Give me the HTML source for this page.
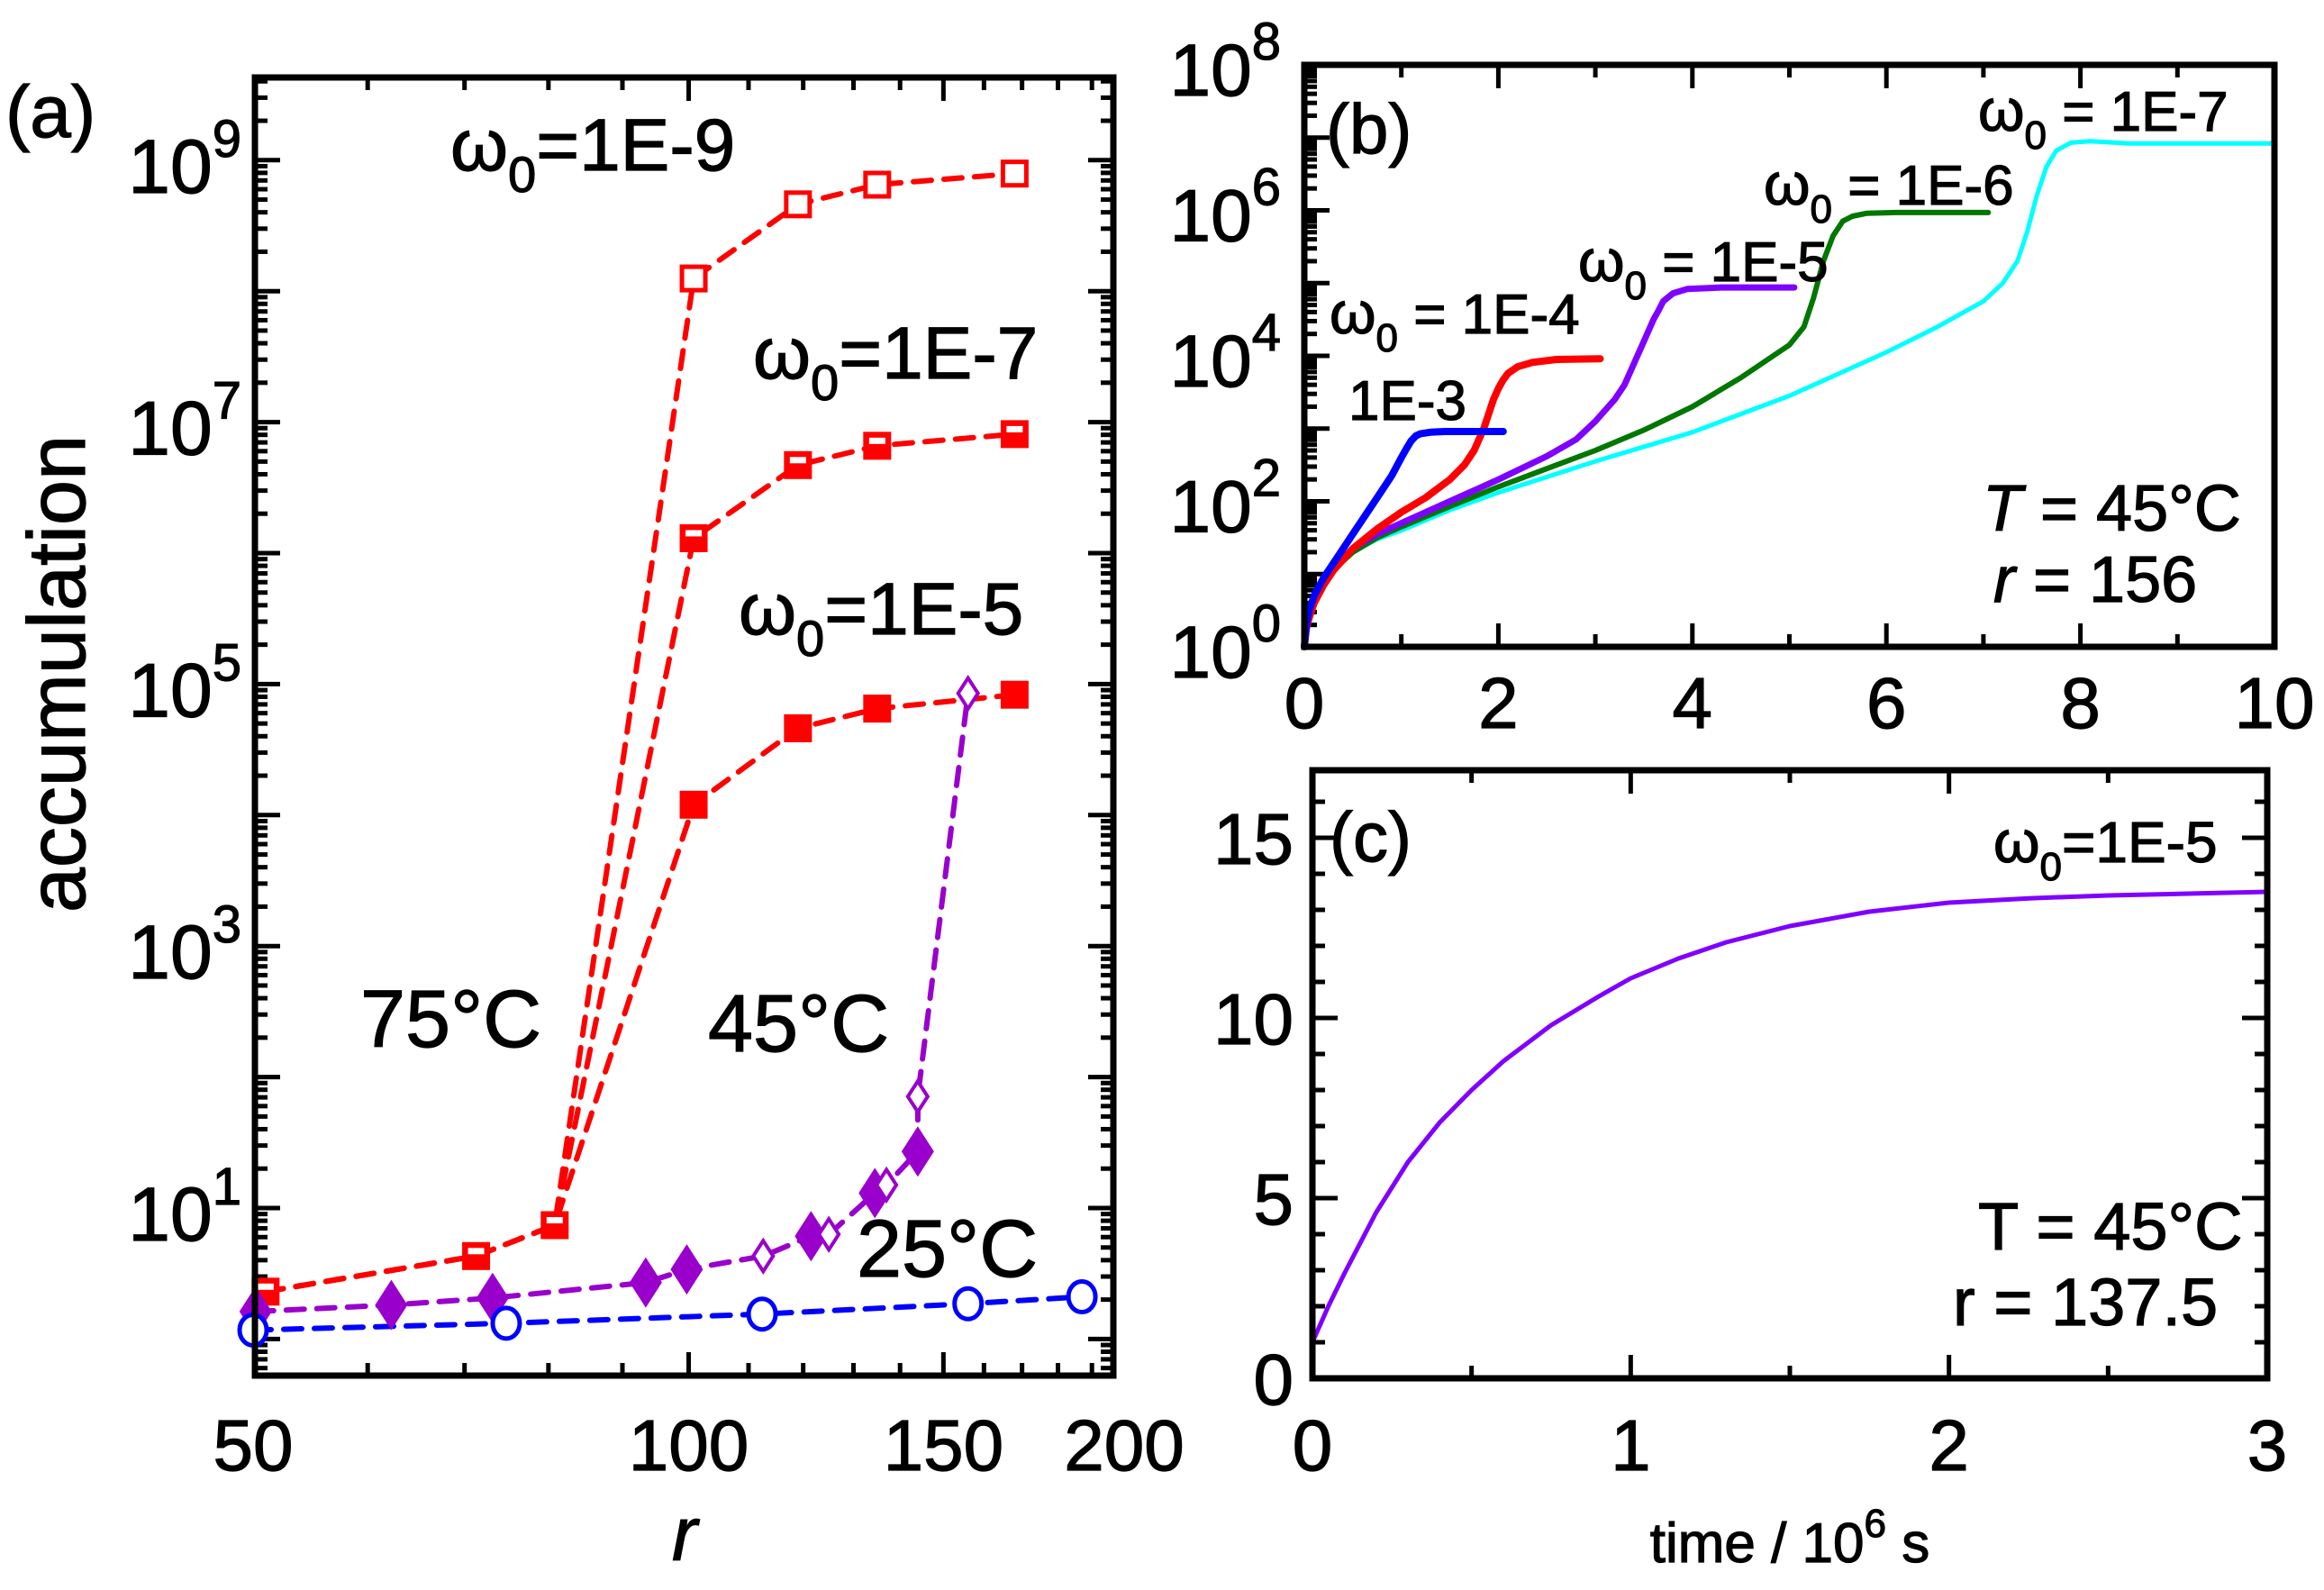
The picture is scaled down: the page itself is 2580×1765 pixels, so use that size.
<!DOCTYPE html>
<html><head><meta charset="utf-8"><style>
html,body{margin:0;padding:0;background:#fff}
svg{display:block}
text{font-family:"Liberation Sans",Arial,sans-serif;fill:#000;stroke:#000;stroke-width:1.2}
.om{font-family:"Liberation Sans",Arial,sans-serif}
</style></head><body>
<svg id="fig" width="2580" height="1765" viewBox="0 0 2580 1765" xmlns="http://www.w3.org/2000/svg">
<g id="pa"></g>
<g id="pb"></g>
<g id="pc"></g>
</svg>
<script>
// ---------- Panel (a) data ----------
const aRed9R = [51, 71.3, 80.8, 100.8, 119, 135, 168];
const aRed9V = [2.3, 4.3, 7.4, 1.25e8, 4.6e8, 6.5e8, 7.9e8];
const aRed7R = [51, 71.3, 80.8, 100.8, 119, 135, 168];
const aRed7V = [2.3, 4.3, 7.4, 1.3e6, 4.7e6, 6.6e6, 8.1e6];
const aRed5R = [51, 71.3, 80.8, 100.8, 119, 135, 168];
const aRed5V = [2.3, 4.3, 7.4, 1.2e4, 4.6e4, 6.5e4, 8.3e4];
const aPurpleFilledR = [50.2, 62.3, 73.2, 93.4, 99.7, 121.5, 134.5, 144];
const aPurpleFilledV = [1.62, 1.82, 2.06, 2.7, 3.4, 6.1, 13, 27];
const aPurpleOpenR = [112.6, 125, 137, 144, 156];
const aPurpleOpenV = [4.3, 6.3, 15, 71, 8.5e4];
const aBlueR = [50, 74.8, 112.4, 156, 187];
const aBlueV = [1.17, 1.32, 1.55, 1.86, 2.1];
const aXTicks = [50, 100, 150, 200];
const aYLabelExp = [1, 3, 5, 7, 9];

// ---------- Panel (b) data (time 1e6 s, log10 accumulation) ----------
const bBlueT = [0, 0.02, 0.05, 0.1, 0.2, 0.35, 0.5, 0.65, 0.8, 0.9, 1.0, 1.05, 1.1, 1.15, 1.2, 1.3, 1.45, 2.05];
const bBlueL = [0, 0.3, 0.5, 0.7, 0.95, 1.25, 1.55, 1.85, 2.15, 2.35, 2.6, 2.72, 2.83, 2.9, 2.93, 2.95, 2.96, 2.96];
const bRedT = [0, 0.02, 0.05, 0.1, 0.2, 0.3, 0.5, 0.75, 1.0, 1.25, 1.5, 1.65, 1.75, 1.85, 1.9, 1.95, 2.0, 2.05, 2.1, 2.2, 2.35, 2.6, 3.05];
const bRedL = [0, 0.25, 0.4, 0.6, 0.85, 1.05, 1.35, 1.62, 1.85, 2.05, 2.3, 2.5, 2.7, 3.0, 3.2, 3.4, 3.55, 3.67, 3.76, 3.85, 3.91, 3.95, 3.96];
const bPurpleT = [0, 0.02, 0.05, 0.1, 0.2, 0.35, 0.5, 0.75, 1.0, 1.5, 2.0, 2.5, 2.8, 3.0, 3.2, 3.3, 3.4, 3.5, 3.6, 3.65, 3.7, 3.8, 3.95, 4.3, 5.05];
const bPurpleL = [0, 0.25, 0.4, 0.6, 0.9, 1.15, 1.35, 1.55, 1.7, 2.0, 2.3, 2.62, 2.85, 3.1, 3.4, 3.6, 3.9, 4.2, 4.5, 4.62, 4.75, 4.86, 4.92, 4.94, 4.94];
const bGreenT = [0, 0.02, 0.05, 0.1, 0.2, 0.35, 0.5, 0.75, 1, 1.5, 2, 2.5, 3, 3.5, 4, 4.5, 5, 5.15, 5.25, 5.35, 5.45, 5.55, 5.65, 5.8, 6.1, 7.05];
const bGreenL = [0, 0.25, 0.4, 0.6, 0.9, 1.12, 1.3, 1.5, 1.65, 1.93, 2.2, 2.45, 2.7, 2.98, 3.3, 3.7, 4.15, 4.4, 4.8, 5.3, 5.65, 5.85, 5.92, 5.96, 5.97, 5.97];
const bCyanT = [0, 0.02, 0.05, 0.1, 0.2, 0.35, 0.5, 0.75, 1, 1.5, 2, 3, 4, 5, 6, 6.5, 7, 7.2, 7.35, 7.45, 7.55, 7.65, 7.75, 7.9, 8.1, 8.5, 10];
const bCyanL = [0, 0.25, 0.4, 0.6, 0.9, 1.12, 1.3, 1.48, 1.6, 1.88, 2.12, 2.55, 2.95, 3.45, 4.05, 4.38, 4.75, 5.0, 5.3, 5.7, 6.2, 6.6, 6.82, 6.93, 6.95, 6.92, 6.92];
const bXTicks = [0, 2, 4, 6, 8, 10];
const bYLabelExp = [0, 2, 4, 6, 8];

// ---------- Panel (c) data ----------
const cT = [0, 0.05, 0.1, 0.2, 0.3, 0.4, 0.5, 0.6, 0.75, 0.9, 1.0, 1.15, 1.3, 1.5, 1.75, 2.0, 2.25, 2.5, 2.75, 3.0];
const cV = [1.0, 2.0, 2.9, 4.6, 6.0, 7.1, 8.0, 8.8, 9.8, 10.6, 11.1, 11.65, 12.1, 12.55, 12.95, 13.2, 13.32, 13.4, 13.45, 13.5];
const cXTicks = [0, 1, 2, 3];
const cYTicks = [0, 5, 10, 15];

const NS = 'http://www.w3.org/2000/svg';
function mk(parent, tag, attrs, txt) {
  const e = document.createElementNS(NS, tag);
  for (const k in attrs) e.setAttribute(k, attrs[k]);
  if (txt !== undefined) e.textContent = txt;
  parent.appendChild(e);
  return e;
}
function pathD(xs, ys) { return xs.map((x, i) => (i ? 'L' : 'M') + x.toFixed(1) + ' ' + ys[i].toFixed(1)).join(' '); }

// ===== Panel A =====
const pa = document.getElementById('pa');
const A = {l: 283, r: 1236, t: 86, b: 1527};
const AX0 = 281, AX1 = 1248;
const ax = r => AX0 + (AX1 - AX0) * Math.log(r / 50) / Math.log(4);
const ay = v => 1341 - 145.4 * (Math.log10(v) - 1);
for (let d = -1; d <= 9; d++) {
  for (let m = 1; m <= 9; m++) {
    const v = m * Math.pow(10, d);
    const y = ay(v);
    if (y < A.t + 2 || y > A.b - 2) continue;
    const len = m === 1 ? 28 : 14;
    const t1 = mk(pa, 'line', {x1: A.l, x2: A.l + len, y1: y, y2: y, stroke: '#000', 'stroke-width': 5});
    
    
    const t2 = mk(pa, 'line', {x1: A.r, x2: A.r - len, y1: y, y2: y, stroke: '#000', 'stroke-width': 5});
    
    
  }
}
for (let r = 60; r < 200; r += 10) {
  const x = ax(r);
  if (x > A.r - 4) continue;
  const len = (r === 100 || r === 150) ? 26 : 14;
  const t1 = mk(pa, 'line', {x1: x, x2: x, y1: A.b, y2: A.b - len, stroke: '#000', 'stroke-width': 5});
  
  
  const t2 = mk(pa, 'line', {x1: x, x2: x, y1: A.t, y2: A.t + len, stroke: '#000', 'stroke-width': 5});
  
  
}
aXTicks.forEach(r => {
  const t = mk(pa, 'text', {x: ax(r), y: 1632, 'font-size': 80, 'text-anchor': 'middle'}, String(r));
  
  
});
aYLabelExp.forEach(e => {
  const t = mk(pa, 'text', {x: 268, y: ay(Math.pow(10, e)) + 36, 'font-size': 84, 'text-anchor': 'end'});
  
  
  t.innerHTML = '10<tspan dy="-40" font-size="58">' + e + '</tspan>';
});
function aLine(rs, vs, color, name) {
  const p = mk(pa, 'path', {d: pathD(rs.map(ax), vs.map(ay)), fill: 'none', stroke: color, 'stroke-width': 6, 'stroke-dasharray': '20 14', 'stroke-linecap': 'round'});
  
  
}
aLine(aRed9R, aRed9V, '#f00', 'line-75c-1e-9');
aLine(aRed7R, aRed7V, '#f00', 'line-75c-1e-7');
aLine(aRed5R, aRed5V, '#f00', 'line-75c-1e-5');
const pr = aPurpleFilledR.map((r, i) => [r, aPurpleFilledV[i]]).concat(aPurpleOpenR.map((r, i) => [r, aPurpleOpenV[i]])).sort((a, b) => a[0] - b[0] || a[1] - b[1]);
aLine(pr.map(p => p[0]), pr.map(p => p[1]), '#9900cc', 'line-45c');
aLine(aBlueR, aBlueV, '#0000ff', 'line-25c');
function sq(x, y, kind, name) {
  const s = 26;
  const g = mk(pa, 'g', {});
  
  
  if (kind === 'open') mk(g, 'rect', {x: x - s / 2, y: y - s / 2, width: s, height: s, fill: '#fff', stroke: '#f00', 'stroke-width': 5});
  else if (kind === 'half') {
    mk(g, 'rect', {x: x - s / 2, y: y - s / 2, width: s, height: s, fill: '#f00', stroke: '#f00', 'stroke-width': 5});
    mk(g, 'rect', {x: x - s / 2 + 4, y: y - s / 2 + 4, width: s - 8, height: s / 2 - 6, fill: '#fff'});
  } else mk(g, 'rect', {x: x - s / 2, y: y - s / 2, width: s, height: s, fill: '#f00', stroke: '#f00', 'stroke-width': 5});
}
aRed9R.forEach((r, i) => sq(ax(r), ay(aRed9V[i]), i < 3 ? 'half' : 'open', 'marker-1e-9'));
aRed7R.forEach((r, i) => { if (i >= 3) sq(ax(r), ay(aRed7V[i]), 'half', 'marker-1e-7'); });
aRed5R.forEach((r, i) => { if (i >= 3) sq(ax(r), ay(aRed5V[i]), 'filled', 'marker-1e-5'); });
aPurpleFilledR.forEach((r, i) => {
  const x = ax(r), y = ay(aPurpleFilledV[i]);
  const p = mk(pa, 'polygon', {points: `${x},${y - 28} ${x + 18},${y} ${x},${y + 28} ${x - 18},${y}`, fill: '#9900cc'});
  
  
});
aPurpleOpenR.forEach((r, i) => {
  const x = ax(r), y = ay(aPurpleOpenV[i]);
  const p = mk(pa, 'polygon', {points: `${x},${y - 17} ${x + 11},${y} ${x},${y + 17} ${x - 11},${y}`, fill: '#fff', stroke: '#9900cc', 'stroke-width': 4});
  
  
});
aBlueR.forEach((r, i) => {
  const p = mk(pa, 'ellipse', {cx: ax(r), cy: ay(aBlueV[i]), rx: 15, ry: 17, fill: '#fff', stroke: '#0000ff', 'stroke-width': 5});
  
  
});
const fa = mk(pa, 'rect', {x: A.l, y: A.t, width: A.r - A.l, height: A.b - A.t, fill: 'none', stroke: '#000', 'stroke-width': 7});



// ===== Panel B =====
const pb = document.getElementById('pb');
const B = {l: 1448, r: 2525, t: 72, b: 718};
const bx = t => B.l + (B.r - B.l) * t / 10;
const by = l => B.b - (B.b - B.t) * l / 8;
for (let d = 0; d < 8; d++) for (let m = 1; m <= 9; m++) {
  const y = by(d + Math.log10(m));
  const len = m === 1 ? 28 : 14;
  const t = mk(pb, 'line', {x1: B.l, x2: B.l + len, y1: y, y2: y, stroke: '#000', 'stroke-width': 5});
  
  
}
for (let t = 1; t < 10; t++) {
  const len = t % 2 === 0 ? 26 : 14;
  const e1 = mk(pb, 'line', {x1: bx(t), x2: bx(t), y1: B.b, y2: B.b - len, stroke: '#000', 'stroke-width': 5});
  
  
  const e2 = mk(pb, 'line', {x1: bx(t), x2: bx(t), y1: B.t, y2: B.t + len, stroke: '#000', 'stroke-width': 5});
  
  
}
bXTicks.forEach(t => {
  const e = mk(pb, 'text', {x: bx(t), y: 808, 'font-size': 80, 'text-anchor': 'middle'}, String(t));
  
  
});
bYLabelExp.forEach(e => {
  const t = mk(pb, 'text', {x: 1422, y: by(e) + 34, 'font-size': 82, 'text-anchor': 'end'});
  
  
  t.innerHTML = '10<tspan dy="-40" font-size="58">' + e + '</tspan>';
});
function bLine(ts, ls, color, w, name) {
  const p = mk(pb, 'path', {d: pathD(ts.map(bx), ls.map(by)), fill: 'none', stroke: color, 'stroke-width': w, 'stroke-linejoin': 'round', 'stroke-linecap': 'round'});
  
  
}
bLine(bCyanT, bCyanL, '#00ffff', 5, 'curve-1e-7');
bLine(bGreenT, bGreenL, '#007700', 6, 'curve-1e-6');
bLine(bPurpleT, bPurpleL, '#8000ff', 7, 'curve-1e-5');
bLine(bRedT, bRedL, '#ff0000', 8, 'curve-1e-4');
bLine(bBlueT, bBlueL, '#0000ff', 8, 'curve-1e-3');
const fb = mk(pb, 'rect', {x: B.l, y: B.t, width: B.r - B.l, height: B.b - B.t, fill: 'none', stroke: '#000', 'stroke-width': 7});



// ===== Panel C =====
const pc = document.getElementById('pc');
const C = {l: 1457, r: 2517, t: 855, b: 1530};
const cx = t => C.l + (C.r - C.l) * t / 3;
const cy = v => C.b - 40 * v;
for (let v = 1; v <= 16; v++) {
  const len = v % 5 === 0 ? 28 : 14;
  const t1 = mk(pc, 'line', {x1: C.l, x2: C.l + len, y1: cy(v), y2: cy(v), stroke: '#000', 'stroke-width': 5});
  
  
  const t2 = mk(pc, 'line', {x1: C.r, x2: C.r - len, y1: cy(v), y2: cy(v), stroke: '#000', 'stroke-width': 5});
  
  
}
for (let i = 1; i < 6; i++) {
  const t = i * 0.5, len = i % 2 === 0 ? 26 : 14;
  const e1 = mk(pc, 'line', {x1: cx(t), x2: cx(t), y1: C.b, y2: C.b - len, stroke: '#000', 'stroke-width': 5});
  
  
  const e2 = mk(pc, 'line', {x1: cx(t), x2: cx(t), y1: C.t, y2: C.t + len, stroke: '#000', 'stroke-width': 5});
  
  
}
cXTicks.forEach(t => {
  const e = mk(pc, 'text', {x: cx(t), y: 1632, 'font-size': 80, 'text-anchor': 'middle'}, String(t));
  
  
});
cYTicks.forEach(v => {
  const e = mk(pc, 'text', {x: 1436, y: cy(v) + 29, 'font-size': 80, 'text-anchor': 'end'}, String(v));
  
  
});
const pcv = mk(pc, 'path', {d: pathD(cT.map(cx), cV.map(cy)), fill: 'none', stroke: '#8000ff', 'stroke-width': 5, 'stroke-linejoin': 'round'});


const fc = mk(pc, 'rect', {x: C.l, y: C.t, width: C.r - C.l, height: C.b - C.t, fill: 'none', stroke: '#000', 'stroke-width': 7});


</script>
<svg width="2580" height="1765" viewBox="0 0 2580 1765" style="position:absolute;left:0;top:0">
<text x="6" y="152" font-size="82">(a)</text>
<text transform="translate(94,748) rotate(-90)" font-size="90" text-anchor="middle">accumulation</text>
<text x="760" y="1732" font-size="84" font-style="italic" text-anchor="middle">r</text>
<text x="500" y="189" font-size="82"><tspan class="om" font-size="82">ω</tspan><tspan dy="24" font-size="56">0</tspan><tspan dy="-24">=1E-9</tspan></text>
<text x="836" y="420" font-size="82"><tspan class="om" font-size="82">ω</tspan><tspan dy="24" font-size="56">0</tspan><tspan dy="-24">=1E-7</tspan></text>
<text x="820" y="704" font-size="82"><tspan class="om" font-size="82">ω</tspan><tspan dy="24" font-size="56">0</tspan><tspan dy="-24">=1E-5</tspan></text>
<text x="400" y="1162" font-size="90">75°C</text>
<text x="786" y="1167" font-size="90">45°C</text>
<text x="951" y="1417" font-size="90">25°C</text>
<text x="1472" y="170" font-size="78">(b)</text>
<text x="2196" y="145" font-size="62"><tspan class="om" font-size="66">ω</tspan><tspan dy="20" font-size="44">0</tspan><tspan dy="-20"> = 1E-7</tspan></text>
<text x="1958" y="227" font-size="62"><tspan class="om" font-size="66">ω</tspan><tspan dy="20" font-size="44">0</tspan><tspan dy="-20"> = 1E-6</tspan></text>
<text x="1752" y="312" font-size="62"><tspan class="om" font-size="66">ω</tspan><tspan dy="20" font-size="44">0</tspan><tspan dy="-20"> = 1E-5</tspan></text>
<text x="1476" y="370" font-size="62"><tspan class="om" font-size="66">ω</tspan><tspan dy="20" font-size="44">0</tspan><tspan dy="-20"> =  1E-4</tspan></text>
<text x="1497" y="466" font-size="62">1E-3</text>
<text x="2201" y="589" font-size="72"><tspan font-style="italic">T</tspan>  = 45°C</text>
<text x="2213" y="668" font-size="72"><tspan font-style="italic">r</tspan>  = 156</text>
<text x="1476" y="956" font-size="78">(c)</text>
<text x="2213" y="957" font-size="64"><tspan class="om" font-size="66">ω</tspan><tspan dy="20" font-size="44">0</tspan><tspan dy="-20">=1E-5</tspan></text>
<text x="2196" y="1387" font-size="74">T = 45°C</text>
<text x="2168" y="1471" font-size="74">r = 137.5</text>
<text x="1987" y="1734" font-size="62" text-anchor="middle">time / 10<tspan dy="-28" font-size="44">6</tspan><tspan dy="28"> s</tspan></text>
</svg>
</body></html>
